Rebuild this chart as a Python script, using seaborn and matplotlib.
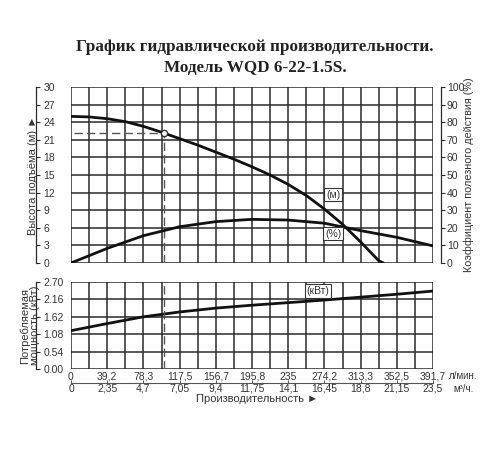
import matplotlib
matplotlib.use("Agg")
import matplotlib.pyplot as plt
import seaborn as sns

# --- data ---
flow_ticks = [0, 39.2, 78.3, 117.5, 156.7, 195.8, 235, 274.2, 313.3, 352.5, 391.7]
flow_labels = ["0", "39,2", "78,3", "117,5", "156,7", "195,8", "235", "274,2", "313,3", "352,5", "391,7"]
m3h_ticks = [0, 2.35, 4.7, 7.05, 9.4, 11.75, 14.1, 16.45, 18.8, 21.15, 23.5]
m3h_labels = ["0", "2,35", "4,7", "7,05", "9,4", "11,75", "14,1", "16,45", "18,8", "21,15", "23,5"]

head_q = [0, 19.6, 39.2, 58.8, 78.3, 97.9, 117.5, 137.1, 156.7, 176.3, 195.8,
          215.4, 235, 254.6, 274.2, 293.8, 313.3, 332.9, 338]
head_m = [25.0, 24.9, 24.6, 24.1, 23.3, 22.3, 21.2, 20.1, 18.9, 17.7, 16.4,
          15.0, 13.4, 11.5, 9.2, 6.6, 3.6, 0.4, 0.0]

eff_q = flow_ticks
eff_pct = [0, 8.3, 15.5, 20.6, 23.5, 24.8, 24.4, 22.6, 18.4, 14.6, 9.7]

power_q = flow_ticks
power_kw = [1.19, 1.41, 1.62, 1.77, 1.89, 1.98, 2.06, 2.14, 2.23, 2.32, 2.42]

duty_q, duty_h = 101, 22.1

head_ticks = [0, 3, 6, 9, 12, 15, 18, 21, 24, 27, 30]
eff_ticks = [0, 10, 20, 30, 40, 50, 60, 70, 80, 90, 100]
power_ticks = [0.0, 0.54, 1.08, 1.62, 2.16, 2.70]

sns.set_theme(style="white")
plt.rcParams["font.family"] = ["Liberation Sans", "DejaVu Sans"]

GRID = "#2a2a2a"
TXT = "#333333"
qmax = 391.7
cols = [qmax * i / 20 for i in range(21)]

fig = plt.figure(figsize=(5, 4.5), dpi=100)
ax = fig.add_axes([0.142, 0.4156, 0.724, 0.391])
ax_p = fig.add_axes([0.142, 0.18, 0.724, 0.1933])

# title
serif = ["Liberation Serif", "DejaVu Serif"]
fig.text(0.51, 0.895, "График гидравлической производительности.", ha="center", va="center",
         fontsize=12.3, fontweight="bold", family=serif, color="#222222")
fig.text(0.51, 0.848, "Модель WQD 6-22-1.5S.", ha="center", va="center",
         fontsize=12.3, fontweight="bold", family=serif, color="#222222")


def grid_setup(a, yt):
    a.set_xlim(0, qmax)
    a.set_xticks(cols)
    a.set_yticks(yt)
    a.set_ylim(yt[0], yt[-1])
    a.grid(True, color=GRID, lw=1.1)
    a.set_axisbelow(True)
    for s in ["top", "right", "bottom"]:
        a.spines[s].set_visible(False)
    a.spines["left"].set_position(("outward", 25))
    a.spines["left"].set_color(GRID)
    a.spines["left"].set_linewidth(0.9)
    a.tick_params(axis="y", direction="in", length=3, width=0.8, color=GRID, pad=-5,
                  labelsize=7.5, labelcolor=TXT, left=True)


# --- top panel: head + efficiency ---
grid_setup(ax, head_ticks)
ax.set_yticklabels([str(t) for t in head_ticks])
for lab in ax.get_yticklabels():
    lab.set_horizontalalignment("left")
ax.tick_params(axis="x", length=0, labelbottom=False)
sns.lineplot(x=head_q, y=head_m, ax=ax, color="#111111", lw=2)
ax.set_ylabel("Высота подъёма (м) ►", fontsize=8, color=TXT)
ax.yaxis.set_label_coords(-0.092, 0.5)

ax2 = ax.twinx()
ax2.set_ylim(0, 100)
ax2.set_yticks(eff_ticks)
sns.lineplot(x=eff_q, y=eff_pct, ax=ax2, color="#111111", lw=2)
for s in ["top", "left", "bottom"]:
    ax2.spines[s].set_visible(False)
ax2.spines["right"].set_position(("outward", 6))
ax2.spines["right"].set_color(GRID)
ax2.spines["right"].set_linewidth(0.9)
ax2.tick_params(axis="y", direction="out", length=3, width=0.8, color=GRID, pad=1,
                labelsize=7.5, labelcolor=TXT, right=True)
ax2.grid(False)
ax2.set_ylabel("Коэффициент полезного действия (%)", fontsize=7.8, color=TXT, labelpad=-0.5)

# duty point
ax.plot([3, duty_q], [duty_h, duty_h], ls=(0, (6, 3)), color="#555555", lw=1)
ax.plot([duty_q, duty_q], [0, duty_h], ls=(0, (6, 3)), color="#555555", lw=1)
ax2.plot([duty_q], [duty_h / 30 * 100], marker="o", ms=4.5, mfc="white", mec="#333333", mew=1, zorder=5)

box = dict(boxstyle="square,pad=0.15", fc="white", ec="#333333", lw=0.8)
ax2.text(283.5, 38.9, "(м)", fontsize=7.5, ha="center", va="center", color=TXT, bbox=box, zorder=6)
ax2.text(283.5, 16.6, "(%)", fontsize=7.5, ha="center", va="center", color=TXT, bbox=box, zorder=6)

# --- bottom panel: power ---
grid_setup(ax_p, power_ticks)
ax_p.set_yticklabels([f"{t:.2f}" for t in power_ticks])
for lab in ax_p.get_yticklabels():
    lab.set_horizontalalignment("left")
sns.lineplot(x=power_q, y=power_kw, ax=ax_p, color="#111111", lw=2)
ax_p.plot([duty_q, duty_q], [0, 2.7], ls=(0, (6, 3)), color="#555555", lw=1)
ax_p.text(267, 2.42, "(кВт)", fontsize=7.5, ha="center", va="center", color=TXT, bbox=box, zorder=6)
ax_p.set_ylabel("Потребляемая\nмощность (кВт)", fontsize=8, color=TXT, linespacing=1.0)
ax_p.yaxis.set_label_coords(-0.086, 0.5)

ax_p.set_xticklabels([flow_labels[i // 2] if i % 2 == 0 else "" for i in range(21)])
ax_p.tick_params(axis="x", length=0, pad=2, labelsize=7.5, labelcolor=TXT)

sec = ax_p.secondary_xaxis("bottom", functions=(lambda q: q * 0.06, lambda m: m / 0.06))
sec.spines["bottom"].set_position(("outward", 10))
sec.spines["bottom"].set_color("#555555")
sec.spines["bottom"].set_linewidth(0.8)
sec.set_xticks(m3h_ticks)
sec.set_xticklabels(m3h_labels)
sec.tick_params(axis="x", direction="in", length=2, width=0.7, color="#555555", pad=0.5,
                labelsize=7.5, labelcolor=TXT)

ax_p.text(1.045, -0.08, "л/мин.", transform=ax_p.transAxes, fontsize=7, color=TXT, va="center", ha="left")
ax_p.text(1.055, -0.235, "м³/ч.", transform=ax_p.transAxes, fontsize=7, color=TXT, va="center", ha="left")
fig.text(0.515, 0.113, "Производительность ►", ha="center", va="center", fontsize=8, color=TXT)

fig.savefig("out.png", dpi=100)
